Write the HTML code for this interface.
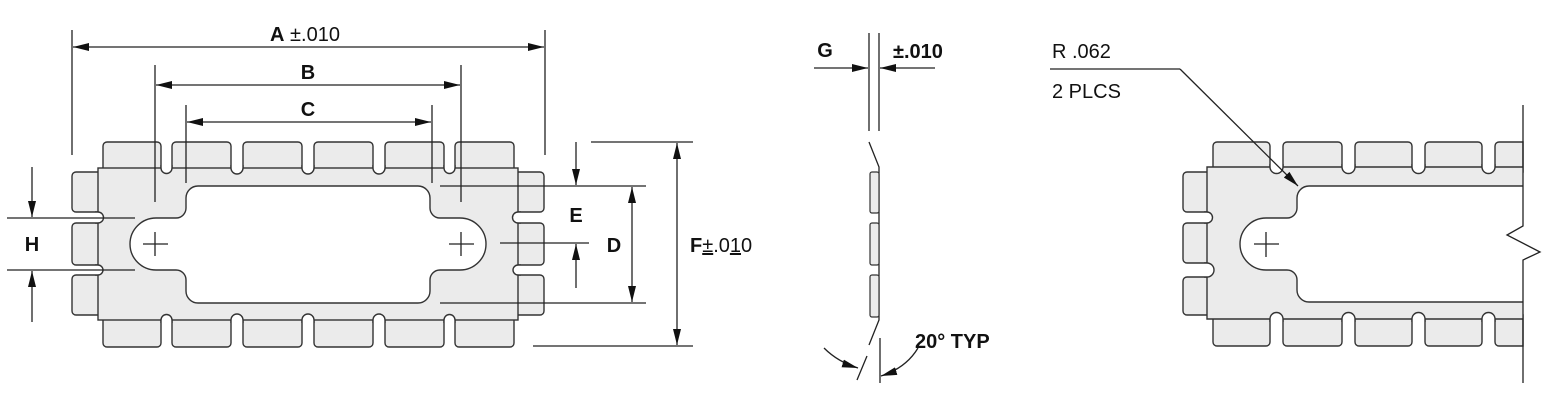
<!DOCTYPE html>
<html><head><meta charset="utf-8"><style>
html,body{margin:0;padding:0;background:#fff;width:1554px;height:420px;overflow:hidden}
svg{display:block}
text{font-family:"Liberation Sans",sans-serif;fill:#111}
.b{font-weight:bold}
</style></head><body>
<svg width="1554" height="420" viewBox="0 0 1554 420" xmlns="http://www.w3.org/2000/svg">
<defs>
<marker id="ar" viewBox="0 0 16 8" refX="16" refY="4" markerWidth="16" markerHeight="8" markerUnits="userSpaceOnUse" orient="auto-start-reverse"><path d="M0,0 L16,4 L0,8 Z" fill="#111"/></marker>
</defs>
<g stroke="#333" stroke-width="1.4" fill="#ebebeb">
<rect x="103" y="142" width="58" height="30" rx="4"/>
<rect x="172" y="142" width="59" height="30" rx="4"/>
<rect x="243" y="142" width="59" height="30" rx="4"/>
<rect x="314" y="142" width="59" height="30" rx="4"/>
<rect x="385" y="142" width="59" height="30" rx="4"/>
<rect x="455" y="142" width="59" height="30" rx="4"/>
<rect x="103" y="316" width="58" height="31" rx="4"/>
<rect x="172" y="316" width="59" height="31" rx="4"/>
<rect x="243" y="316" width="59" height="31" rx="4"/>
<rect x="314" y="316" width="59" height="31" rx="4"/>
<rect x="385" y="316" width="59" height="31" rx="4"/>
<rect x="455" y="316" width="59" height="31" rx="4"/>
<rect x="72" y="172" width="30" height="40" rx="4"/>
<rect x="72" y="223" width="30" height="42" rx="4"/>
<rect x="72" y="275" width="30" height="40" rx="4"/>
<rect x="514" y="172" width="30" height="40" rx="4"/>
<rect x="514" y="223" width="30" height="42" rx="4"/>
<rect x="514" y="275" width="30" height="40" rx="4"/>
<rect x="98" y="168" width="420" height="152"/>
</g>
<g stroke="#333" stroke-width="1.4" fill="#fff">
<path d="M161 165 V168 A5.5 5.5 0 0 0 172 168 V165"/>
<path d="M231 165 V168 A6 6 0 0 0 243 168 V165"/>
<path d="M302 165 V168 A6 6 0 0 0 314 168 V165"/>
<path d="M373 165 V168 A6 6 0 0 0 385 168 V165"/>
<path d="M444 165 V168 A5.5 5.5 0 0 0 455 168 V165"/>
<path d="M161 323 V320 A5.5 5.5 0 0 1 172 320 V323"/>
<path d="M231 323 V320 A6 6 0 0 1 243 320 V323"/>
<path d="M302 323 V320 A6 6 0 0 1 314 320 V323"/>
<path d="M373 323 V320 A6 6 0 0 1 385 320 V323"/>
<path d="M444 323 V320 A5.5 5.5 0 0 1 455 320 V323"/>
<path d="M95 212 H98 A5.5 5.5 0 0 1 98 223 H95"/>
<path d="M95 265 H98 A5 5 0 0 1 98 275 H95"/>
<path d="M521 212 H518 A5.5 5.5 0 0 0 518 223 H521"/>
<path d="M521 265 H518 A5 5 0 0 0 518 275 H521"/>
<path d="M198 186 H418 A12 12 0 0 1 430 198 V208 A10 10 0 0 0 440 218 H460 A26 26 0 0 1 460 270 H440 A10 10 0 0 0 430 280 V291 A12 12 0 0 1 418 303 H198 A12 12 0 0 1 186 291 V280 A10 10 0 0 0 176 270 H156 A26 26 0 0 1 156 218 H176 A10 10 0 0 0 186 208 V198 A12 12 0 0 1 198 186 Z"/>
</g>
<g stroke="#222" stroke-width="1.3" fill="none">
<path d="M143 244 H168 M155 232 V256 M449 244 H474 M461 232 V256"/>
<path d="M72 30 V155 M545 30 V155 M155 65 V202 M461 65 V202 M186 105 V183 M432 105 V183"/>
<line x1="73" y1="47" x2="544" y2="47" marker-start="url(#ar)" marker-end="url(#ar)"/>
<line x1="156" y1="85" x2="460" y2="85" marker-start="url(#ar)" marker-end="url(#ar)"/>
<line x1="187" y1="122" x2="431" y2="122" marker-start="url(#ar)" marker-end="url(#ar)"/>
<path d="M7 218 H135 M7 270 H135"/>
<line x1="32" y1="167" x2="32" y2="217" marker-end="url(#ar)"/>
<line x1="32" y1="322" x2="32" y2="271" marker-end="url(#ar)"/>
<path d="M440 186 H646 M440 303 H646 M591 142 H693 M533 346 H693 M500 243 H589"/>
<line x1="576" y1="142" x2="576" y2="185" marker-end="url(#ar)"/>
<line x1="576" y1="288" x2="576" y2="244" marker-end="url(#ar)"/>
<line x1="632" y1="187" x2="632" y2="302" marker-start="url(#ar)" marker-end="url(#ar)"/>
<line x1="677" y1="143" x2="677" y2="345" marker-start="url(#ar)" marker-end="url(#ar)"/>
</g>
<text x="305" y="41" font-size="20" text-anchor="middle"><tspan class="b">A</tspan> ±.010</text>
<text x="308" y="79" font-size="20" text-anchor="middle" class="b">B</text>
<text x="308" y="116" font-size="20" text-anchor="middle" class="b">C</text>
<text x="32" y="251" font-size="20" text-anchor="middle" class="b">H</text>
<text x="576" y="222" font-size="20" text-anchor="middle" class="b">E</text>
<text x="614" y="252" font-size="20" text-anchor="middle" class="b">D</text>
<text x="690" y="252" font-size="20"><tspan class="b">F</tspan><tspan text-decoration="underline">±</tspan>.0<tspan text-decoration="underline">1</tspan>0</text>

<!-- MIDDLE -->
<g stroke="#222" stroke-width="1.3" fill="none">
<path d="M869 33 V131 M879 33 V131"/>
<line x1="814" y1="68" x2="868" y2="68" marker-end="url(#ar)"/>
<line x1="935" y1="68" x2="880" y2="68" marker-end="url(#ar)"/>
<path d="M869 142 L879 167 V317 L879 320 L869 345"/>
<path d="M857 380 L867 356 M880 338 V383"/>
<path d="M824 348 Q838 362 858 368" marker-end="url(#ar)"/>
<path d="M918 348 Q906 368 881 376" marker-end="url(#ar)"/>
</g>
<g stroke="#333" stroke-width="1.2" fill="#ebebeb">
<rect x="870" y="172" width="9" height="41" rx="2"/>
<rect x="870" y="223" width="9" height="42" rx="2"/>
<rect x="870" y="275" width="9" height="42" rx="2"/>
</g>
<text x="825" y="57" font-size="20" class="b" text-anchor="middle">G</text>
<text x="893" y="58" font-size="20" class="b">±.010</text>
<text x="915" y="348" font-size="20" class="b">20° TYP</text>

<text x="1052" y="58" font-size="20">R .062</text>
<text x="1052" y="98" font-size="20">2 PLCS</text>

<!-- RIGHT VIEW -->
<g stroke="#333" stroke-width="1.4" fill="#ebebeb">
<rect x="1213" y="142" width="57" height="30" rx="4"/>
<rect x="1283" y="142" width="59" height="30" rx="4"/>
<rect x="1355" y="142" width="57" height="30" rx="4"/>
<rect x="1425" y="142" width="57" height="30" rx="4"/>
<path d="M1523 142 H1499 A4 4 0 0 0 1495 146 V172 H1523 Z"/>
<rect x="1213" y="315" width="57" height="31" rx="4"/>
<rect x="1283" y="315" width="59" height="31" rx="4"/>
<rect x="1355" y="315" width="57" height="31" rx="4"/>
<rect x="1425" y="315" width="57" height="31" rx="4"/>
<path d="M1523 315 H1495 V342 A4 4 0 0 0 1499 346 H1523 Z"/>
<rect x="1183" y="172" width="28" height="40" rx="4"/>
<rect x="1183" y="223" width="28" height="40" rx="4"/>
<rect x="1183" y="277" width="28" height="38" rx="4"/>
<path d="M1523 167 H1207 V319 H1523"/>
</g>
<g stroke="#333" stroke-width="1.4" fill="#fff">
<path d="M1270 164 V167 A6 6 0 0 0 1283 167 V164"/>
<path d="M1342 164 V167 A6.5 6.5 0 0 0 1355 167 V164"/>
<path d="M1412 164 V167 A6.5 6.5 0 0 0 1425 167 V164"/>
<path d="M1482 164 V167 A6.5 6.5 0 0 0 1495 167 V164"/>
<path d="M1270 322 V319 A6 6 0 0 1 1283 319 V322"/>
<path d="M1342 322 V319 A6.5 6.5 0 0 1 1355 319 V322"/>
<path d="M1412 322 V319 A6.5 6.5 0 0 1 1425 319 V322"/>
<path d="M1482 322 V319 A6.5 6.5 0 0 1 1495 319 V322"/>
<path d="M1204 212 H1207 A5.5 5.5 0 0 1 1207 223 H1204"/>
<path d="M1204 263 H1207 A7 7 0 0 1 1207 277 H1204"/>
<path d="M1523 186 H1309 A12 12 0 0 0 1297 198 V208 A10 10 0 0 1 1287 218 H1266 A26 26 0 0 0 1266 270 H1287 A10 10 0 0 1 1297 280 V290 A12 12 0 0 0 1309 302 H1523"/>
</g>
<g stroke="#222" stroke-width="1.3" fill="none">
<path d="M1254 244 H1279 M1266 232 V257"/>
<path d="M1523 105 V226 L1507 235 L1540 252 L1523 260 V383"/>
<path d="M1050 69 H1180"/>
<line x1="1180" y1="69" x2="1298" y2="186" marker-end="url(#ar)"/>
</g>
</svg>
</body></html>
